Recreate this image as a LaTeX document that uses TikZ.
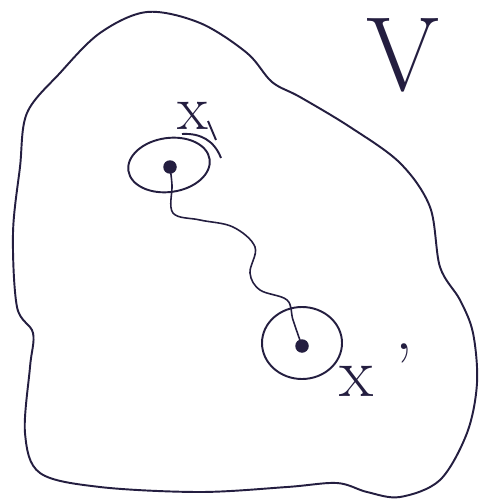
\documentclass[tikz,border=0pt]{standalone}
\usepackage{amsmath}
\usepackage{tikz}
\definecolor{ink}{RGB}{36,30,64}

\begin{document}
\begin{tikzpicture}[x=0.02cm, y=-0.02cm, line width=1.1pt, color=ink,
  dot/.style={circle, fill=ink, inner sep=0pt, minimum size=0.27cm},
  lab/.style={text=ink, inner sep=0pt}]
  \fill[white] (0,0) rectangle (480,503);
  \useasboundingbox (0,0) rectangle (480,503);

  % 区域
  \draw[line join=round] plot[smooth cycle, tension=0.55] coordinates {
    (147,12) (200,23) (247,53) (272,82) (300,97) (350,127) (400,163)
    (430,207) (440,267) (460,300) (473,333) (477,383) (467,433)
    (440,480) (400,497) (367,492) (337,483) (287,487) (200,492)
    (100,487) (40,473) (25,433) (30,367) (33,333) (17,307) (13,233)
    (20,167) (27,113) (60,73) (100,33)};
  \node[lab, font=\fontsize{60}{60}\selectfont] (V) at (403,55) {V};

  % 两个点
  \node[dot] (p) at (170,167) {};
  \node[dot] (q) at (302,346) {};
  \node[lab, font=\fontsize{36}{36}\selectfont] (px) at (193,116) {x};
  \node[lab, font=\fontsize{40}{40}\selectfont] (qx) at (357,370)
    {x\rlap{\hspace{0.3em}\raisebox{0.05em}{\textquoteright}}};

  % 邻域
  \draw[rotate around={8:(169,165)}] (169,165) ellipse [x radius=41, y radius=27];
  \draw (182,134) .. controls (200,133) and (214,140) .. (221,158);
  \draw (208,121) -- (216,140);
  \draw (302,343) ellipse [x radius=40, y radius=36];

  % 路径
  \draw[line width=0.9pt] plot[smooth, tension=0.6] coordinates {
    (p) (172,185) (173,213) (200,220) (233,227) (255,247) (250,273)
    (260,290) (287,300) (293,320) (q)};
\end{tikzpicture}
\end{document}
